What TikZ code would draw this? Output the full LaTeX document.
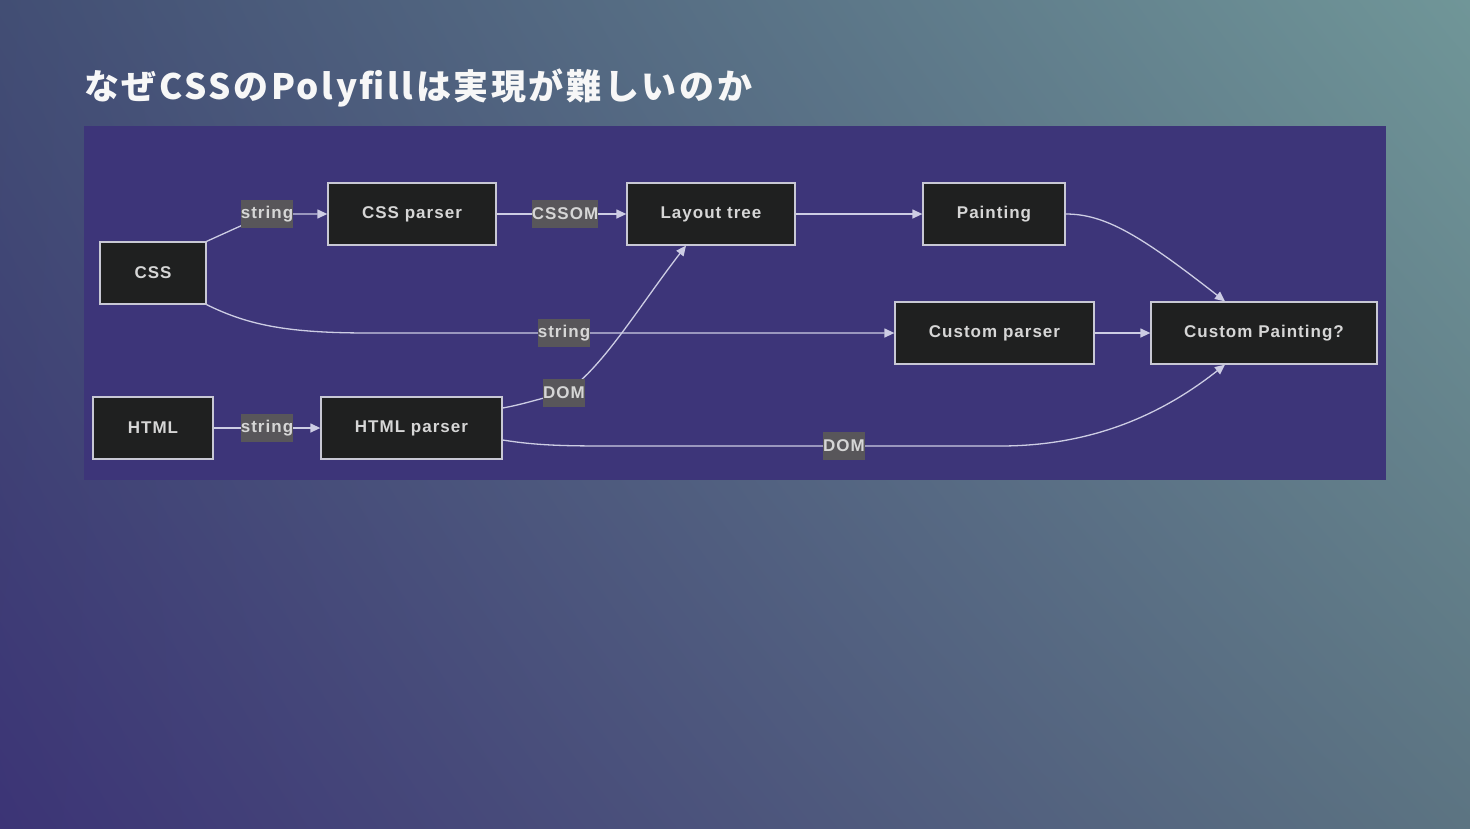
\documentclass[tikz,border=0pt]{standalone}
\usepackage{fontspec}
\setmainfont{Liberation Sans}[LetterSpace=6]
\newfontfamily\jpfont{Noto Sans CJK JP}[LetterSpace=7.5]
\usetikzlibrary{arrows.meta,calc,shadings}
\definecolor{panel}{RGB}{61,53,121}
\definecolor{nodefill}{RGB}{31,32,32}
\definecolor{nodeline}{RGB}{200,200,212}
\definecolor{txt}{RGB}{214,214,214}
\definecolor{lblfill}{RGB}{88,86,90}
\definecolor{edgecol}{RGB}{205,205,228}
\definecolor{bgUL}{RGB}{66,78,116}
\definecolor{bgUR}{RGB}{112,150,152}
\definecolor{bgLL}{RGB}{60,52,118}
\definecolor{bgLR}{RGB}{92,116,130}
\tikzset{
  box/.style={draw=nodeline, line width=1.3pt, fill=nodefill, text=txt,
    font=\bfseries\fontsize{17}{20}\selectfont, inner sep=0pt, minimum height=62pt},
  lbl/.style={fill=lblfill, text=txt, font=\bfseries\fontsize{17}{20}\selectfont,
    inner sep=0pt, minimum height=28pt},
  edge/.style={draw=edgecol, line width=1.3pt},
  arr/.style={edge, -{Triangle[length=10pt,width=9pt]}}
}
\begin{document}
\begin{tikzpicture}[x=1pt,y=-1pt]
\useasboundingbox (0,0) rectangle (1470,828);
\shade[upper left=bgUL, upper right=bgUR, lower left=bgLL, lower right=bgLR] (0,0) rectangle (1470,828);
\fill[panel] (84,126) rectangle (1386,480);
\node[anchor=base west, text=white!94!gray, font=\jpfont\bfseries\fontsize{35}{40}\selectfont, inner sep=0pt] (title) at (84,99) {なぜCSSのPolyfillは実現が難しいのか};

\node[box, minimum width=106pt] (css) at (153,273) {CSS};
\node[box, minimum width=168pt] (cssp) at (412,214) {CSS parser};
\node[box, minimum width=168pt] (lt) at (711,214) {Layout tree};
\node[box, minimum width=142pt] (paint) at (994,214) {Painting};
\node[box, minimum width=199pt] (cp) at (994.5,333) {Custom parser};
\node[box, minimum width=226pt] (cpaint) at (1264,333) {Custom Painting?};
\node[box, minimum width=120pt] (html) at (153,428) {HTML};
\node[box, minimum width=181pt] (hp) at (411.5,428) {HTML parser};

\coordinate (l1) at (267,214);
\coordinate (l2) at (565,214);
\coordinate (l3) at (564,333);
\coordinate (l4) at (564,393);
\coordinate (l5) at (267,428);
\coordinate (l6) at (844,446);

\draw[arr] (css.north east) -- (l1) -- (cssp.west);
\draw[arr] (cssp.east) -- (l2) -- (lt.west);
\draw[arr] (lt.east) -- (paint.west);
\draw[arr] (css.south east) .. controls (250,326) and (290,333) .. (370,333) -- (l3) -- (cp.west);
\draw[arr] (cp.east) -- (cpaint.west);
\draw[arr] (html.east) -- (l5) -- (hp.west);
\draw[arr] ($(hp.east)+(0,-20)$) .. controls (525,404) and (545,397) .. (l4)
   .. controls (600,372) and (640,305) .. ($(lt.south)+(-25,0)$);
\draw[arr] ($(hp.east)+(0,12)$) .. controls (540,446) and (570,446) .. (620,446) -- (l6) -- (1000,446)
   .. controls (1090,446) and (1160,416) .. ($(cpaint.south)+(-39,0)$);
\draw[arr] (paint.east) .. controls (1105,214) and (1140,235) .. ($(cpaint.north)+(-39,0)$);

\node[lbl] (t1) at (l1) {string};
\node[lbl] (t2) at (l2) {CSSOM};
\node[lbl] (t3) at (l3) {string};
\node[lbl] (t4) at (l4) {DOM};
\node[lbl] (t5) at (l5) {string};
\node[lbl] (t6) at (l6) {DOM};
\end{tikzpicture}
\end{document}
